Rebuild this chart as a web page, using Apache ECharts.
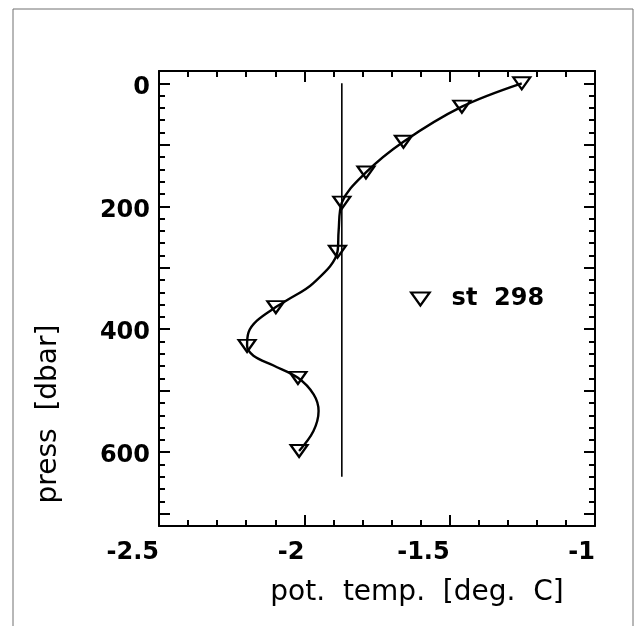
<!DOCTYPE html>
<html>
<head>
<meta charset="utf-8">
<script src="https://cdn.jsdelivr.net/npm/echarts@6/dist/echarts.min.js"></script>
<style>html,body{margin:0;padding:0;background:#fff;}#c{width:641px;height:626px;}</style>
</head>
<body>
<div id="c"></div>
<script>
// Station 298 observations (potential temperature, pressure)
var stationName = 'st  298';
var obsTemp  = [-1.252, -1.458, -1.659, -1.788, -1.871, -1.886, -2.098, -2.197, -2.022, -2.018];
var obsPress = [0, 38, 95, 145, 194, 274, 364, 427, 479, 598];
// fitted profile curve
var curveTemp  = [-1.252, -1.458, -1.659, -1.788, -1.871, -1.882, -1.886, -1.969, -2.06, -2.098, -2.163, -2.192, -2.197, -2.175, -2.106, -2.022, -1.968, -1.951, -1.969, -2.018];
var curvePress = [0, 38, 95, 145, 194, 240, 274, 325, 353, 364, 386, 405, 427, 443, 459, 479, 506, 533, 566, 598];
// reference vertical line
var refTemp = -1.871;
var refPress = [0, 640];
// axis ticks
var xLabels = [-2.5, -2, -1.5, -1];
var yLabels = [0, 200, 400, 600];
var yMajor = [0, 100, 200, 300, 400, 500, 600, 700];

var FONT = 'DejaVu Sans';
var chart = echarts.init(document.getElementById('c'), null, {renderer: 'canvas'});

function xAx(pos, labels) {
  return {
    type: 'value', position: pos, min: -2.5, max: -1, interval: 0.5,
    axisLine: {show: true, onZero: false, lineStyle: {color: '#000', width: 2}},
    axisTick: {show: true, inside: true, length: 11, lineStyle: {color: '#000', width: 2}},
    minorTick: {show: true, splitNumber: 5, length: 6, lineStyle: {color: '#000', width: 2}},
    splitLine: {show: false},
    axisLabel: labels ? {show: true, color: '#000', fontFamily: FONT, fontWeight: 'bold', fontSize: 24, margin: 15, align: 'right',
      customValues: xLabels, formatter: function (v) { return String(v); }} : {show: false}
  };
}
function yAxMajor(pos, labels) {
  return {
    type: 'value', position: pos, min: -20, max: 720, inverse: true,
    axisLine: {show: true, onZero: false, lineStyle: {color: '#000', width: 2}},
    axisTick: {show: true, inside: true, length: 11, customValues: yMajor, lineStyle: {color: '#000', width: 2}},
    splitLine: {show: false},
    axisLabel: labels ? {show: true, color: '#000', fontFamily: FONT, fontWeight: 'bold', fontSize: 24, margin: 9,
      customValues: yLabels, verticalAlign: 'top', lineHeight: 8, formatter: function (v) { return String(v); }} : {show: false}
  };
}
function yAxMinor(pos) {
  return {
    type: 'value', position: pos, min: -20, max: 720, interval: 20, inverse: true,
    axisLine: {show: false, onZero: false},
    axisTick: {show: true, inside: true, length: 6, lineStyle: {color: '#000', width: 2}},
    splitLine: {show: false},
    axisLabel: {show: false}
  };
}

function pairs(xs, ys) { return xs.map(function (x, i) { return [x, ys[i]]; }); }

var triPath = 'path://M0,0 L20,0 L10,14 Z';

chart.setOption({
  animation: false,
  backgroundColor: '#fff',
  grid: {left: 159, top: 71, right: 46, bottom: 100, show: false},
  xAxis: [xAx('bottom', true), xAx('top', false)],
  yAxis: [yAxMajor('left', true), yAxMinor('left'), yAxMajor('right', false), yAxMinor('right')],
  legend: {
    show: true, data: [stationName], left: 410, top: 287, padding: 0, orient: 'horizontal',
    icon: triPath, itemWidth: 19, itemHeight: 13,
    itemStyle: {color: 'rgba(0,0,0,0)', borderColor: '#000', borderWidth: 2.2},
    formatter: function (n) { return '  ' + n; },
    textStyle: {color: '#000', fontFamily: FONT, fontWeight: 'bold', fontSize: 24}
  },
  series: [
    {
      type: 'line', name: 'profile', xAxisIndex: 0, yAxisIndex: 0,
      data: pairs(curveTemp, curvePress), smooth: 0.35, showSymbol: false, symbol: 'none',
      lineStyle: {color: '#000', width: 2.4}, silent: true, z: 2
    },
    {
      type: 'line', name: 'ref', xAxisIndex: 0, yAxisIndex: 0,
      data: refPress.map(function (p) { return [refTemp, p]; }), showSymbol: false, symbol: 'none',
      lineStyle: {color: '#000', width: 1.6}, silent: true, z: 2
    },
    {
      type: 'scatter', name: stationName, xAxisIndex: 0, yAxisIndex: 0,
      data: pairs(obsTemp, obsPress), symbol: triPath, symbolSize: [17, 12],
      itemStyle: {color: 'rgba(0,0,0,0)', borderColor: '#000', borderWidth: 2.2, opacity: 1}, z: 3
    }
  ],
  graphic: [
    {type: 'rect', shape: {x: 13, y: 9, width: 620, height: 700}, style: {fill: 'none', stroke: '#707070', lineWidth: 1}, silent: true},
    {type: 'text', x: 417, y: 593, style: {text: 'pot.  temp.  [deg.  C]', fontFamily: FONT, fontSize: 28, fill: '#000', align: 'center', verticalAlign: 'middle'}},
    {type: 'text', x: 49, y: 414, rotation: Math.PI / 2, style: {text: 'press  [dbar]', fontFamily: FONT, fontSize: 28, fill: '#000', align: 'center', verticalAlign: 'middle'}}
  ]
});
</script>
</body>
</html>
